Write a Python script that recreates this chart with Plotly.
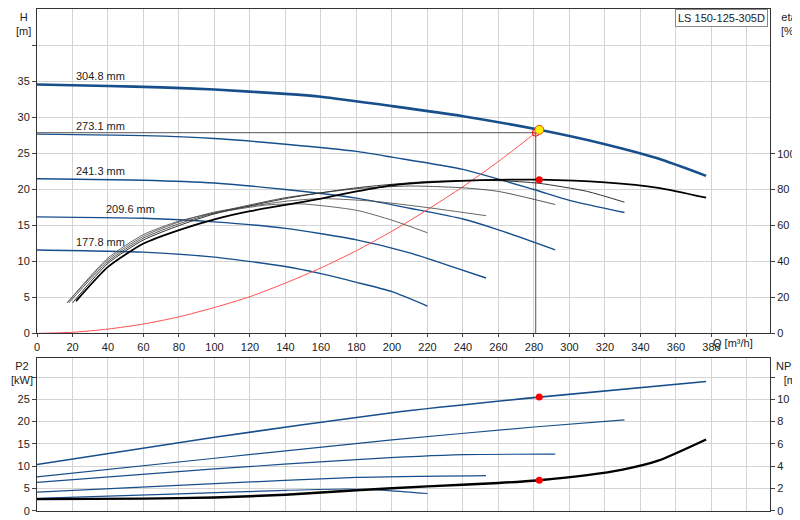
import plotly.graph_objects as go

BLUE = "#174f8c"
# Head curves (Q m3/h, H m)
q_3048 = [0, 40, 70, 100, 140, 160, 200, 240, 283, 320, 350, 377]
h_3048 = [34.6, 34.4, 34.2, 33.9, 33.3, 32.9, 31.6, 30.2, 28.3, 26.3, 24.3, 21.9]
q_2731 = [0, 60, 100, 140, 180, 200, 240, 280, 300, 331]
h_2731 = [27.7, 27.5, 27.1, 26.3, 25.3, 24.5, 22.8, 20.0, 18.5, 16.8]
q_2413 = [0, 60, 100, 140, 180, 210, 240, 260, 292]
h_2413 = [21.5, 21.3, 20.9, 20.0, 18.8, 17.4, 15.9, 14.4, 11.6]
q_2096 = [0, 60, 100, 140, 180, 210, 230, 253]
h_2096 = [16.2, 16.0, 15.5, 14.6, 13.0, 11.2, 9.6, 7.7]
q_1778 = [0, 60, 100, 140, 160, 180, 200, 220]
h_1778 = [11.6, 11.3, 10.6, 9.3, 8.3, 7.1, 5.8, 3.8]
labels = ["304.8 mm", "273.1 mm", "241.3 mm", "209.6 mm", "177.8 mm"]
label_q = [21, 21, 21, 38, 21]
label_h = [35.8, 28.8, 22.6, 17.3, 12.7]

# Efficiency curves (%)
qe_3048 = [22, 40, 60, 80, 100, 120, 140, 160, 180, 200, 220, 250, 283, 320, 350, 377]
e_3048 = [18, 37, 50, 57.5, 63.5, 68, 71.5, 75, 79, 82.4, 84, 85.3, 85.5, 84, 81, 75.5]
qe_2731 = [20, 40, 60, 80, 100, 140, 180, 220, 260, 283, 310, 331]
e_2731 = [17, 39, 52, 60, 66.5, 75, 81, 84.5, 85, 83.5, 79, 73]
qe_2413 = [18, 40, 60, 80, 100, 140, 180, 210, 240, 260, 292]
e_2413 = [17, 40, 53, 61, 67, 75.5, 80.5, 82, 81, 79, 71.7]
qe_2096 = [17, 40, 60, 80, 100, 140, 160, 190, 220, 253]
e_2096 = [17, 41, 54, 62, 67.5, 73.5, 75, 73.5, 70, 65.5]
qe_1778 = [17, 40, 60, 80, 100, 130, 150, 180, 200, 220]
e_1778 = [17, 42, 55, 62.5, 67, 71.5, 72, 68.5, 63, 56]

# System curve
q_sys = [0, 20, 40, 60, 80, 100, 120, 140, 160, 180, 200, 220, 240, 260, 281]
h_sys = [0, 0.15, 0.6, 1.3, 2.3, 3.6, 5.1, 7.0, 9.1, 11.5, 14.2, 17.2, 20.4, 23.9, 27.9]
op_q, op_h, op_eta = 283, 28.3, 85.5
sys_q, sys_h = 281, 27.9

# Power P2 (kW)
qp_3048 = [0, 100, 200, 283, 377]
p_3048 = [10.4, 16.5, 22.0, 25.5, 29.0]
qp_2731 = [0, 100, 200, 280, 331]
p_2731 = [7.6, 11.8, 15.9, 18.8, 20.4]
qp_2413 = [0, 100, 180, 240, 292]
p_2413 = [6.4, 9.4, 11.5, 12.6, 12.7]
qp_2096 = [0, 100, 180, 253]
p_2096 = [4.2, 6.1, 7.5, 7.9]
qp_1778 = [0, 80, 140, 175, 200, 220]
p_1778 = [2.8, 3.8, 4.6, 4.9, 4.5, 3.9]
op_p2 = 25.5
# NPSH (m)
q_npsh = [0, 60, 100, 140, 180, 220, 260, 283, 310, 330, 350, 377]
npsh = [1.05, 1.1, 1.2, 1.45, 1.85, 2.2, 2.5, 2.75, 3.2, 3.7, 4.5, 6.4]
op_npsh = 2.75

fig = go.Figure()
def ln(x, y, color, w, xa="x", ya="y"):
    fig.add_trace(go.Scatter(x=x, y=y, mode="lines", line=dict(color=color, width=w, shape="spline", smoothing=0.6),
                             xaxis=xa, yaxis=ya, showlegend=False, hoverinfo="skip"))

for q, h, w in [(q_3048, h_3048, 2.6), (q_2731, h_2731, 1.4), (q_2413, h_2413, 1.4),
                (q_2096, h_2096, 1.4), (q_1778, h_1778, 1.4)]:
    ln(q, h, BLUE, w)
for q, e, c, w in [(qe_1778, e_1778, "#555", 0.9), (qe_2096, e_2096, "#555", 0.9),
                   (qe_2413, e_2413, "#444", 0.9), (qe_2731, e_2731, "#333", 1.0),
                   (qe_3048, e_3048, "#000", 1.8)]:
    ln(q, e, c, w, ya="y2")
ln(q_sys, h_sys, "#ff5050", 1)
fig.add_trace(go.Scatter(x=[0, sys_q, sys_q], y=[sys_h, sys_h, 0], mode="lines",
                         line=dict(color="#555", width=1), showlegend=False, hoverinfo="skip"))
fig.add_trace(go.Scatter(x=[sys_q], y=[sys_h], mode="markers", showlegend=False,
                         marker=dict(size=7, color="rgba(0,0,0,0)", line=dict(color="red", width=1))))
fig.add_trace(go.Scatter(x=[op_q], y=[op_h], mode="markers", showlegend=False,
                         marker=dict(size=9, color="#ffee00", line=dict(color="#e05000", width=1))))
fig.add_trace(go.Scatter(x=[op_q], y=[op_eta], yaxis="y2", mode="markers", showlegend=False,
                         marker=dict(size=7, color="red")))

for q, p, w in [(qp_3048, p_3048, 1.6), (qp_2731, p_2731, 1.2), (qp_2413, p_2413, 1.2),
                (qp_2096, p_2096, 1.2), (qp_1778, p_1778, 1.2)]:
    ln(q, p, BLUE, w, xa="x2", ya="y3")
ln(q_npsh, npsh, "#000", 2.4, xa="x2", ya="y4")
fig.add_trace(go.Scatter(x=[op_q], y=[op_p2], xaxis="x2", yaxis="y3", mode="markers",
                         showlegend=False, marker=dict(size=7, color="red")))
fig.add_trace(go.Scatter(x=[op_q], y=[op_npsh], xaxis="x2", yaxis="y4", mode="markers",
                         showlegend=False, marker=dict(size=7, color="red")))

F = dict(family="Liberation Sans, Arial", size=11, color="#222")
grid = "#d4d4d4"
xt = list(range(0, 400, 20))
common_x = dict(range=[0, 413], tickvals=xt + [400], showgrid=True, gridcolor=grid, automargin=False,
                showline=True, linecolor="#333", mirror=True, zeroline=False, tickfont=F)
ya_common = dict(automargin=False, showline=True, linecolor="#333", zeroline=False,
                 ticks="outside", ticklen=4, tickfont=F)
fig.update_layout(
    width=800, height=520, margin=dict(l=29, r=38, t=1, b=0, autoexpand=False),
    plot_bgcolor="white", paper_bgcolor="white", font=F,
    xaxis=dict(**common_x, anchor="y", ticktext=[str(v) for v in xt] + [""], ticks="outside", ticklen=3),
    yaxis=dict(**ya_common, domain=[0.375, 1], range=[0, 45.1], tickvals=list(range(0, 45, 5)),
               ticktext=[str(v) for v in range(0, 40, 5)] + [""], showgrid=True, gridcolor=grid),
    yaxis2=dict(**ya_common, overlaying="y", side="right", range=[0, 180.5],
                tickvals=list(range(0, 120, 20)), showgrid=False),
    xaxis2=dict(**common_x, anchor="y3", ticktext=[""] * 21, ticks=""),
    yaxis3=dict(**ya_common, domain=[0.033, 0.327], range=[0, 34.2], tickvals=list(range(0, 35, 5)),
                ticktext=[str(v) for v in range(0, 30, 5)] + [""], showgrid=True, gridcolor=grid),
    yaxis4=dict(**ya_common, overlaying="y3", side="right", range=[0, 13.68],
                tickvals=list(range(0, 14, 2)), ticktext=[str(v) for v in range(0, 12, 2)] + [""],
                showgrid=False),
)
for t, q, h in zip(labels, label_q, label_h):
    fig.add_annotation(x=q, y=h, text=t, showarrow=False, xanchor="left", font=F)
ann = [("H<br>[m]", 15, 1.0), ("eta<br>[%]", 781, 1.0), ("P2<br>[kW]", 14, 0.327),
       ("NPSH<br>[m]", 784, 0.327)]
for t, xp, yp in ann:
    fig.add_annotation(x=(xp - 29) / 733, y=yp, xref="paper", yref="paper", text=t, showarrow=False,
                       xanchor="center", yanchor="top", font=F)
fig.add_annotation(x=(747 - 29) / 733, y=0.375, xref="paper", yref="paper", yanchor="top",
                   text="Q [m³/h]", showarrow=False, font=F, yshift=-2)
fig.add_annotation(x=1.0, y=1.0, xref="paper", yref="paper", xanchor="right", yanchor="top",
                   xshift=-2, text="LS 150-125-305D", showarrow=False, font=F,
                   bordercolor="#888", borderwidth=1, bgcolor="white", borderpad=2)
fig.write_html("out.html")
